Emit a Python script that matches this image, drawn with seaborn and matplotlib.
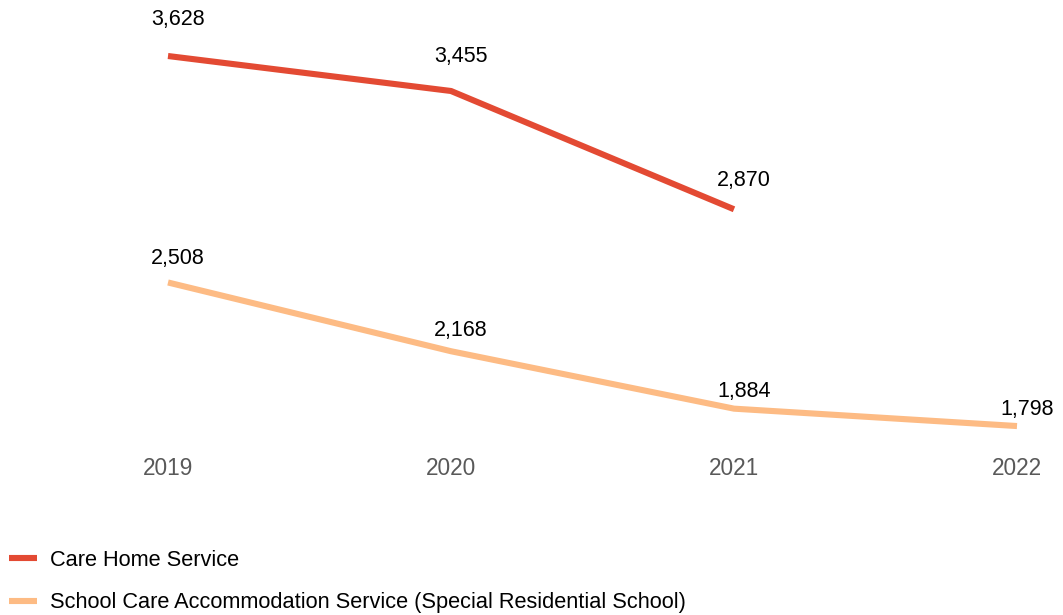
import numpy as np
import pandas as pd
import matplotlib
matplotlib.use('Agg')
import matplotlib.pyplot as plt
import seaborn as sns

years = [2019, 2020, 2021, 2022]
care_home = [3628, 3455, 2870, np.nan]
school_care = [2508, 2168, 1884, 1798]
series_names = ["Care Home Service",
                 "School Care Accommodation Service (Special Residential School)"]
colors = ["#e34a33", "#fdbb84"]

df = pd.DataFrame({
    "year": years * 2,
    "value": care_home + school_care,
    "service": [series_names[0]] * 4 + [series_names[1]] * 4,
}).dropna()

sns.set_style("white")
plt.rcParams['font.family'] = ['Liberation Sans', 'DejaVu Sans']
plt.rcParams['text.color'] = 'black'

fig = plt.figure(figsize=(10.63, 6.15), dpi=100)
ax = fig.add_axes([0, 1 - 440 / 615, 1, 440 / 615])

sns.lineplot(data=df, x="year", y="value", hue="service", palette=colors,
             linewidth=4.4, ax=ax, legend=True, solid_capstyle="butt")

# value labels
for _, r in df.iterrows():
    dy = 0.0111 * r["value"] * 0.72 - 2.5
    ax.annotate(f"{int(r['value']):,}", (r["year"], r["value"]),
                xytext=(7, dy), textcoords="offset points",
                ha="center", va="center", fontsize=15.5, color="black")

ax.set_xlim(2019 - 168 / 283, 2022 + 46 / 283)
ax.set_ylim(1729, 3905)
ax.set_xticks(years)
ax.set_xticklabels([str(y) for y in years], fontsize=16.3, color="#595959")
ax.tick_params(axis="x", length=0, pad=12)
ax.set_yticks([])
ax.set_xlabel("")
ax.set_ylabel("")
for s in ax.spines.values():
    s.set_visible(False)

handles, labels = ax.get_legend_handles_labels()
for h in handles:
    h.set_solid_capstyle("butt")
ax.get_legend().remove()
leg = fig.legend(handles, labels, loc="upper left",
                 bbox_to_anchor=(2 / 1063, 1 - 543 / 615),
                 frameon=False, fontsize=15.7, handlelength=1.3, handletextpad=0.62,
                 labelspacing=1.0, borderaxespad=0, borderpad=0.3)
for t in leg.get_texts():
    t.set_color("black")

fig.savefig("out.png", dpi=100)
